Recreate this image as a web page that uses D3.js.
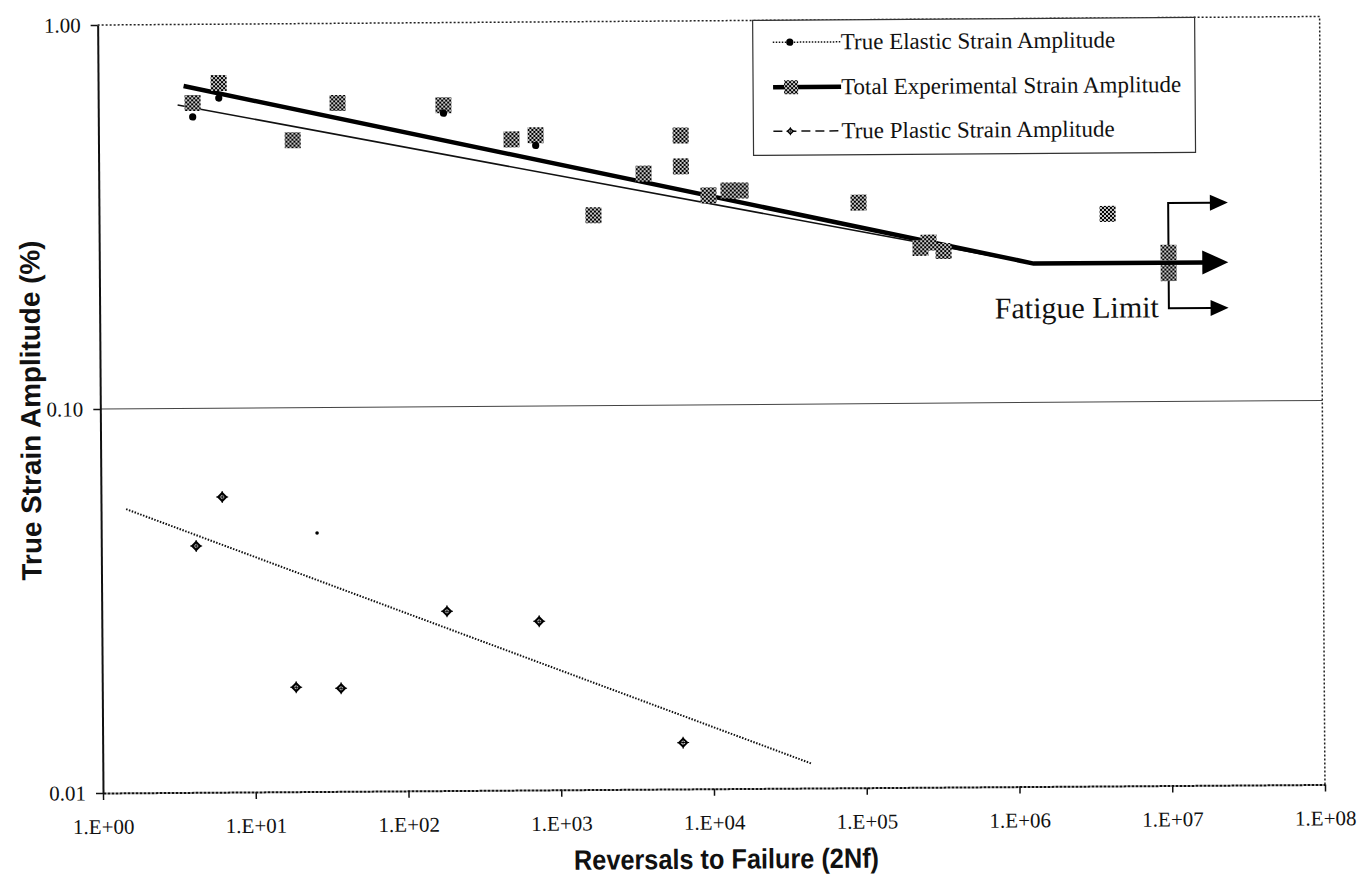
<!DOCTYPE html>
<html>
<head>
<meta charset="utf-8">
<script src="https://cdn.jsdelivr.net/npm/d3@7"></script>
<style>
body{margin:0;background:#fff;}
svg{display:block;}
</style>
</head>
<body>
<svg id="chart" width="1372" height="887"></svg>
<script>
// values: x = reversals to failure, y = strain amplitude (%)
var totalX = [4.15, 6.16, 18.7, 36.9, 182, 506, 728, 1727, 3690, 6480, 6480, 9800, 13250, 15900, 94000, 238000, 269000, 337000, 4.01e6, 1.0e7, 1.0e7];
var totalY = [0.624, 0.703, 0.497, 0.620, 0.609, 0.495, 0.507, 0.313, 0.401, 0.503, 0.418, 0.351, 0.361, 0.361, 0.334, 0.254, 0.262, 0.249, 0.309, 0.244, 0.216];

var elasticX = [4.15, 6.16, 182, 728];
var elasticY = [0.574, 0.642, 0.581, 0.477];

var plasticX = [4.18, 6.22, 18.6, 36.6, 182, 730, 6310];
var plasticY = [0.0438, 0.0587, 0.0187, 0.01855, 0.0293, 0.0275, 0.0132];
var plasticDotX = [25.9];
var plasticDotY = [0.0471];

// fitted lines
var elasticFitX = [3.31, 1.31e6];
var elasticFitY = [0.617, 0.230];
var totalFitX = [3.63, 1.31e6, 2.46e7];
var totalFitY = [0.691, 0.230, 0.230];
var plasticFitX = [1.46, 43900];
var plasticFitY = [0.0548, 0.01157];

// fatigue limit marker
var limitX = 1e7;
var arrowTipX = 2.46e7;
var limitArrowY = [0.329, 0.175];

var xTicks = [1, 10, 100, 1e3, 1e4, 1e5, 1e6, 1e7, 1e8];
var yTicks = [0.01, 0.1, 1];
var legendLabels = ["True Elastic Strain Amplitude", "Total Experimental Strain Amplitude", "True Plastic Strain Amplitude"];

var svg = d3.select('#chart');
svg.append('rect').attr('width', 1372).attr('height', 887).attr('fill', '#fff');

var defs = svg.append('defs');
var pat = defs.append('pattern').attr('id', 'checker')
  .attr('patternUnits', 'userSpaceOnUse').attr('width', 4).attr('height', 4);
pat.append('rect').attr('width', 4).attr('height', 4).attr('fill', '#c8c8c8');
pat.append('rect').attr('width', 2).attr('height', 2).attr('fill', '#000');
pat.append('rect').attr('x', 2).attr('y', 2).attr('width', 2).attr('height', 2).attr('fill', '#000');

var pLeft = 103, pRight = 1325, pTop = 25, pBottom = 793;

// the scan is slightly tilted, so turn the whole drawing a little
var g = svg.append('g').attr('transform', 'rotate(-0.4,' + pLeft + ',' + pBottom + ')');

var x = d3.scaleLog().domain([1, 1e8]).range([pLeft, pRight]);
var y = d3.scaleLog().domain([0.01, 1]).range([pBottom, pTop]);

var serif = "'Liberation Serif','Times New Roman',serif";
var sans = "'Liberation Sans',Arial,sans-serif";

// gridline at 0.10
g.append('line')
  .attr('x1', pLeft).attr('x2', pRight)
  .attr('y1', y(0.1)).attr('y2', y(0.1))
  .attr('stroke', '#444').attr('stroke-width', 1);

// plot border (dotted top and right)
g.append('path')
  .attr('d', 'M' + pLeft + ',' + pTop + 'H' + pRight + 'V' + pBottom)
  .attr('fill', 'none').attr('stroke', '#222').attr('stroke-width', 1.5)
  .attr('stroke-dasharray', '2,2');

// axes
var xAxis = d3.axisBottom(x).tickValues(xTicks)
  .tickFormat(function(d){ var e = Math.round(Math.log10(d)); return '1.E+' + (e < 10 ? '0' : '') + e; })
  .tickSize(7).tickSizeOuter(0).tickPadding(19);
var gx = g.append('g').attr('transform', 'translate(0,' + pBottom + ')').call(xAxis);
gx.select('.domain').attr('stroke', '#111').attr('stroke-width', 2).attr('stroke-dasharray', '3,1');
gx.selectAll('.tick line').attr('stroke', '#111').attr('stroke-width', 1.5);
gx.selectAll('.tick text').attr('font-family', serif).attr('font-size', 21).attr('fill', '#111');

var yAxis = d3.axisLeft(y).tickValues(yTicks).tickFormat(d3.format('.2f'))
  .tickSize(7).tickSizeOuter(0).tickPadding(10);
var gy = g.append('g').attr('transform', 'translate(' + pLeft + ',0)').call(yAxis);
gy.select('.domain').attr('stroke', '#111').attr('stroke-width', 2);
gy.selectAll('.tick line').attr('stroke', '#111').attr('stroke-width', 1.5);
gy.selectAll('.tick text').attr('font-family', serif).attr('font-size', 21).attr('fill', '#111');

// axis titles
g.append('text')
  .attr('transform', 'translate(43,' + ((pTop + pBottom) / 2 + 1) + ') rotate(-90)')
  .attr('text-anchor', 'middle')
  .attr('font-family', sans).attr('font-weight', 'bold').attr('font-size', 28)
  .attr('textLength', 340).attr('lengthAdjust', 'spacingAndGlyphs')
  .attr('fill', '#111')
  .text('True Strain Amplitude (%)');

g.append('text')
  .attr('x', 726).attr('y', 873)
  .attr('text-anchor', 'middle')
  .attr('font-family', sans).attr('font-weight', 'bold').attr('font-size', 28)
  .attr('textLength', 305).attr('lengthAdjust', 'spacingAndGlyphs')
  .attr('fill', '#111')
  .text('Reversals to Failure (2Nf)');

var line = d3.line().x(function(d){ return x(d[0]); }).y(function(d){ return y(d[1]); });

// plastic fit (dotted)
g.append('path')
  .attr('d', line(d3.zip(plasticFitX, plasticFitY)))
  .attr('fill', 'none').attr('stroke', '#111').attr('stroke-width', 2)
  .attr('stroke-dasharray', '1.5,1.5');

// elastic fit (thin)
g.append('path')
  .attr('d', line(d3.zip(elasticFitX, elasticFitY)))
  .attr('fill', 'none').attr('stroke', '#111').attr('stroke-width', 1.6);

// total fit (thick), stop before the arrow head
var headLen = 26, headHalf = 12;
var totalPts = d3.zip(totalFitX, totalFitY).map(function(d){ return [x(d[0]), y(d[1])]; });
totalPts[totalPts.length - 1][0] -= headLen - 2;
g.append('path')
  .attr('d', d3.line()(totalPts))
  .attr('fill', 'none').attr('stroke', '#000').attr('stroke-width', 4.5)
  .attr('stroke-linejoin', 'round');

// fatigue limit bracket and arrows
var tip = x(arrowTipX), lx = x(limitX);
g.append('path')
  .attr('d', 'M' + (tip - 16) + ',' + y(limitArrowY[0]) + 'H' + lx + 'V' + y(limitArrowY[1]) + 'H' + (tip - 16))
  .attr('fill', 'none').attr('stroke', '#000').attr('stroke-width', 2);
limitArrowY.forEach(function(v){
  var yy = y(v);
  g.append('path')
    .attr('d', 'M' + tip + ',' + yy + 'L' + (tip - 18) + ',' + (yy - 8) + 'L' + (tip - 18) + ',' + (yy + 8) + 'Z')
    .attr('fill', '#000');
});
var ym = y(totalFitY[totalFitY.length - 1]);
g.append('path')
  .attr('d', 'M' + tip + ',' + ym + 'L' + (tip - headLen) + ',' + (ym - headHalf) + 'L' + (tip - headLen) + ',' + (ym + headHalf) + 'Z')
  .attr('fill', '#000');

g.append('text')
  .attr('x', lx - 10).attr('y', y(limitArrowY[1]) + 9)
  .attr('text-anchor', 'end')
  .attr('font-family', serif).attr('font-size', 30).attr('fill', '#111')
  .text('Fatigue Limit');

// total experimental points (checkered squares)
g.selectAll('.sq').data(d3.zip(totalX, totalY)).enter().append('rect')
  .attr('class', 'sq')
  .attr('x', function(d){ return x(d[0]) - 8; })
  .attr('y', function(d){ return y(d[1]) - 8; })
  .attr('width', 16).attr('height', 16)
  .attr('fill', 'url(#checker)');

// elastic points
g.selectAll('.el').data(d3.zip(elasticX, elasticY)).enter().append('circle')
  .attr('class', 'el')
  .attr('cx', function(d){ return x(d[0]); })
  .attr('cy', function(d){ return y(d[1]); })
  .attr('r', 3.6).attr('fill', '#000');

// plastic points
function plasticMark(sel){
  sel.append('path').attr('d', 'M0,-4L4,0L0,4L-4,0Z')
    .attr('fill', '#fff').attr('stroke', '#000').attr('stroke-width', 2);
  sel.append('path').attr('d', 'M-6,0H6M0,-6V6')
    .attr('stroke', '#000').attr('stroke-width', 1);
}
g.selectAll('.pl').data(d3.zip(plasticX, plasticY)).enter().append('g')
  .attr('class', 'pl')
  .attr('transform', function(d){ return 'translate(' + x(d[0]) + ',' + y(d[1]) + ')'; })
  .call(plasticMark);
g.selectAll('.pd').data(d3.zip(plasticDotX, plasticDotY)).enter().append('circle')
  .attr('class', 'pd')
  .attr('cx', function(d){ return x(d[0]); })
  .attr('cy', function(d){ return y(d[1]); })
  .attr('r', 1.8).attr('fill', '#000');

// legend
var leg = g.append('g');
leg.append('rect')
  .attr('x', 758).attr('y', pTop).attr('width', 442).attr('height', 135)
  .attr('fill', '#fff').attr('stroke', '#333').attr('stroke-width', 1.2);
var rowY = [47, 92, 136];
legendLabels.forEach(function(t, i){
  leg.append('text')
    .attr('x', 846).attr('y', rowY[i] + 7.5)
    .attr('font-family', serif).attr('font-size', 23).attr('fill', '#111')
    .text(t);
});
leg.append('line').attr('x1', 778).attr('x2', 846).attr('y1', rowY[0]).attr('y2', rowY[0])
  .attr('stroke', '#111').attr('stroke-width', 1.5).attr('stroke-dasharray', '1.5,1.5');
leg.append('circle').attr('cx', 795).attr('cy', rowY[0]).attr('r', 3.6).attr('fill', '#000');
leg.append('line').attr('x1', 778).attr('x2', 846).attr('y1', rowY[1]).attr('y2', rowY[1])
  .attr('stroke', '#000').attr('stroke-width', 4.5);
leg.append('rect').attr('x', 789).attr('y', rowY[1] - 7).attr('width', 14).attr('height', 14)
  .attr('fill', 'url(#checker)');
leg.append('line').attr('x1', 778).attr('x2', 846).attr('y1', rowY[2]).attr('y2', rowY[2])
  .attr('stroke', '#111').attr('stroke-width', 1.5).attr('stroke-dasharray', '9,5');
leg.append('g').attr('transform', 'translate(795,' + rowY[2] + ') scale(0.7)').call(plasticMark);
</script>
</body>
</html>
